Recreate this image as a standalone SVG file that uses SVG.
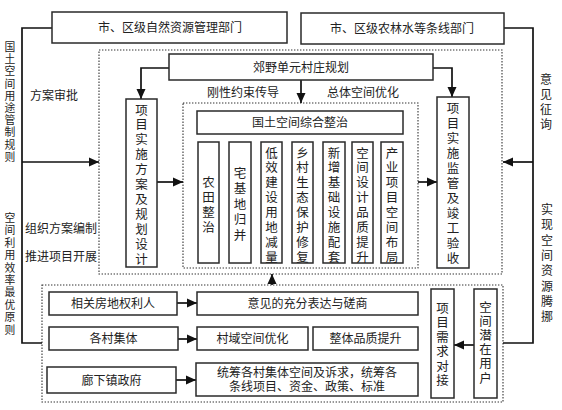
<svg xmlns="http://www.w3.org/2000/svg" width="562" height="410" viewBox="0 0 562 410">
<defs>
<style>
.bx{fill:#fff;stroke:#2a2a2a;stroke-width:1.5}
.dot{fill:none;stroke:#333;stroke-width:1.1;stroke-dasharray:1.4 1.6}
.ln{fill:none;stroke:#111;stroke-width:1.7}
.t{font-family:"Liberation Sans","Noto Sans CJK SC",sans-serif;font-size:12px;fill:#222;text-anchor:middle}
.tv{font-family:"Liberation Sans","Noto Sans CJK SC",sans-serif;font-size:12.5px;fill:#222;text-anchor:middle}
.ts{font-family:"Liberation Sans","Noto Sans CJK SC",sans-serif;font-size:10.8px;fill:#222;text-anchor:middle}
</style>
<marker id="ah" markerUnits="userSpaceOnUse" markerWidth="10" markerHeight="10" viewBox="0 0 10 10" refX="10" refY="5" orient="auto">
<path d="M0,0.5 L10,5 L0,9.5 Z" fill="#111"/>
</marker>
</defs>
<rect width="562" height="410" fill="#fff"/>

<g id="zones">
<rect class="dot" x="99" y="50" width="403" height="224"/>
<rect class="dot" x="183" y="103" width="235" height="165"/>
<rect class="dot" x="42" y="285" width="461" height="117"/>
</g>

<g id="connectors">
<polyline class="ln" points="52,28 22,28 22,343 42,343"/>
<polyline class="ln" points="504,28 533,28 533,343 503,343"/>
<line class="ln" x1="22" y1="162" x2="99" y2="162" marker-end="url(#ah)"/>
<line class="ln" x1="533" y1="162" x2="503" y2="162" marker-end="url(#ah)"/>
<polyline class="ln" points="169,68 141,68 141,99" marker-end="url(#ah)"/>
<polyline class="ln" points="433,68 452,68 452,97" marker-end="url(#ah)"/>
<line class="ln" x1="301" y1="80" x2="301" y2="103" marker-end="url(#ah)"/>
<line class="ln" x1="157" y1="182" x2="183" y2="182" marker-end="url(#ah)"/>
<line class="ln" x1="418" y1="182" x2="437" y2="182" marker-end="url(#ah)"/>
<line class="ln" x1="272" y1="285" x2="272" y2="274" marker-end="url(#ah)"/>
<line class="ln" x1="177" y1="303" x2="197" y2="303" marker-end="url(#ah)"/>
<line class="ln" x1="178" y1="339" x2="197" y2="339" marker-end="url(#ah)"/>
<line class="ln" x1="176" y1="380" x2="196" y2="380" marker-end="url(#ah)"/>
<line class="ln" x1="474" y1="345" x2="454" y2="345" marker-end="url(#ah)"/>
</g>

<g id="labels">
<text class="t" x="54" y="100">方案审批</text>
<text class="t" x="61" y="233">组织方案编制</text>
<text class="t" x="61" y="261">推进项目开展</text>
<text class="t" x="243" y="97">刚性约束传导</text>
<text class="t" x="363" y="97">总体空间优化</text>
<text class="ts"><tspan x="10" y="51">国</tspan><tspan x="10" y="63.2">土</tspan><tspan x="10" y="75.4">空</tspan><tspan x="10" y="87.6">间</tspan><tspan x="10" y="99.8">用</tspan><tspan x="10" y="112">途</tspan><tspan x="10" y="124.2">管</tspan><tspan x="10" y="136.4">制</tspan><tspan x="10" y="148.6">规</tspan><tspan x="10" y="160.8">则</tspan></text>
<text class="ts"><tspan x="10" y="222">空</tspan><tspan x="10" y="234.4">间</tspan><tspan x="10" y="246.8">利</tspan><tspan x="10" y="259.2">用</tspan><tspan x="10" y="271.6">效</tspan><tspan x="10" y="284">率</tspan><tspan x="10" y="296.4">最</tspan><tspan x="10" y="308.8">优</tspan><tspan x="10" y="321.2">原</tspan><tspan x="10" y="333.6">则</tspan></text>
<text class="t"><tspan x="546" y="84">意</tspan><tspan x="546" y="99">见</tspan><tspan x="546" y="114">征</tspan><tspan x="546" y="129">询</tspan></text>
<text class="t"><tspan x="547" y="214">实</tspan><tspan x="547" y="229.3">现</tspan><tspan x="547" y="244.6">空</tspan><tspan x="547" y="259.9">间</tspan><tspan x="547" y="275.2">资</tspan><tspan x="547" y="290.5">源</tspan><tspan x="547" y="305.8">腾</tspan><tspan x="547" y="321.1">挪</tspan></text>
</g>

<g id="n-zrzy">
<rect class="bx" x="52" y="12" width="235" height="31"/>
<text class="t" x="170" y="32">市、区级自然资源管理部门</text>
</g>
<g id="n-nls">
<rect class="bx" x="301" y="13" width="203" height="31"/>
<text class="t" x="402" y="33">市、区级农林水等条线部门</text>
</g>
<g id="n-jydy">
<rect class="bx" x="169" y="54" width="264" height="26"/>
<text class="t" x="301" y="71.5">郊野单元村庄规划</text>
</g>
<g id="n-fa">
<rect class="bx" x="126" y="99" width="31" height="168"/>
<text class="tv"><tspan x="141.5" y="114.5">项</tspan><tspan x="141.5" y="129.4">目</tspan><tspan x="141.5" y="144.3">实</tspan><tspan x="141.5" y="159.2">施</tspan><tspan x="141.5" y="174.1">方</tspan><tspan x="141.5" y="189">案</tspan><tspan x="141.5" y="203.9">及</tspan><tspan x="141.5" y="218.8">规</tspan><tspan x="141.5" y="233.7">划</tspan><tspan x="141.5" y="248.6">设</tspan><tspan x="141.5" y="263.5">计</tspan></text>
</g>
<g id="n-jg">
<rect class="bx" x="437" y="97" width="32" height="171"/>
<text class="tv"><tspan x="453" y="112.5">项</tspan><tspan x="453" y="127.5">目</tspan><tspan x="453" y="142.5">实</tspan><tspan x="453" y="157.5">施</tspan><tspan x="453" y="172.5">监</tspan><tspan x="453" y="187.5">管</tspan><tspan x="453" y="202.5">及</tspan><tspan x="453" y="217.5">竣</tspan><tspan x="453" y="232.5">工</tspan><tspan x="453" y="247.5">验</tspan><tspan x="453" y="262.5">收</tspan></text>
</g>
<g id="n-zz">
<rect class="bx" x="197" y="111" width="206" height="23"/>
<text class="t" x="300" y="127">国土空间综合整治</text>
</g>
<g id="n-nt">
<rect class="bx" x="198" y="142" width="21" height="121"/>
<text class="tv"><tspan x="208.5" y="186.5">农</tspan><tspan x="208.5" y="201.5">田</tspan><tspan x="208.5" y="216.5">整</tspan><tspan x="208.5" y="231.5">治</tspan></text>
</g>
<g id="n-zjd">
<rect class="bx" x="229" y="142" width="22" height="121"/>
<text class="tv"><tspan x="240" y="177.5">宅</tspan><tspan x="240" y="193">基</tspan><tspan x="240" y="208.5">地</tspan><tspan x="240" y="224">归</tspan><tspan x="240" y="239.5">并</tspan></text>
</g>
<g id="n-dx">
<rect class="bx" x="261" y="142" width="21" height="121"/>
<text class="tv"><tspan x="271.5" y="157.5">低</tspan><tspan x="271.5" y="172.4">效</tspan><tspan x="271.5" y="187.3">建</tspan><tspan x="271.5" y="202.2">设</tspan><tspan x="271.5" y="217.1">用</tspan><tspan x="271.5" y="232">地</tspan><tspan x="271.5" y="246.9">减</tspan><tspan x="271.5" y="261.8">量</tspan></text>
</g>
<g id="n-st">
<rect class="bx" x="292" y="142" width="21" height="121"/>
<text class="tv"><tspan x="302.5" y="157.5">乡</tspan><tspan x="302.5" y="172.4">村</tspan><tspan x="302.5" y="187.3">生</tspan><tspan x="302.5" y="202.2">态</tspan><tspan x="302.5" y="217.1">保</tspan><tspan x="302.5" y="232">护</tspan><tspan x="302.5" y="246.9">修</tspan><tspan x="302.5" y="261.8">复</tspan></text>
</g>
<g id="n-jc">
<rect class="bx" x="323" y="142" width="22" height="121"/>
<text class="tv"><tspan x="334" y="157.5">新</tspan><tspan x="334" y="172.4">增</tspan><tspan x="334" y="187.3">基</tspan><tspan x="334" y="202.2">础</tspan><tspan x="334" y="217.1">设</tspan><tspan x="334" y="232">施</tspan><tspan x="334" y="246.9">配</tspan><tspan x="334" y="261.8">套</tspan></text>
</g>
<g id="n-pz">
<rect class="bx" x="352" y="142" width="21" height="121"/>
<text class="tv"><tspan x="362.5" y="157.5">空</tspan><tspan x="362.5" y="172.4">间</tspan><tspan x="362.5" y="187.3">设</tspan><tspan x="362.5" y="202.2">计</tspan><tspan x="362.5" y="217.1">品</tspan><tspan x="362.5" y="232">质</tspan><tspan x="362.5" y="246.9">提</tspan><tspan x="362.5" y="261.8">升</tspan></text>
</g>
<g id="n-cy">
<rect class="bx" x="381" y="142" width="22" height="121"/>
<text class="tv"><tspan x="392" y="157.5">产</tspan><tspan x="392" y="172.4">业</tspan><tspan x="392" y="187.3">项</tspan><tspan x="392" y="202.2">目</tspan><tspan x="392" y="217.1">空</tspan><tspan x="392" y="232">间</tspan><tspan x="392" y="246.9">布</tspan><tspan x="392" y="261.8">局</tspan></text>
</g>

<g id="n-flr">
<rect class="bx" x="49" y="292" width="128" height="23"/>
<text class="t" x="113" y="308">相关房地权利人</text>
</g>
<g id="n-yj">
<rect class="bx" x="197" y="292" width="221" height="23"/>
<text class="t" x="307.5" y="308">意见的充分表达与磋商</text>
</g>
<g id="n-gcjt">
<rect class="bx" x="49" y="327" width="129" height="23"/>
<text class="t" x="113.5" y="343">各村集体</text>
</g>
<g id="n-cy2">
<rect class="bx" x="197" y="327" width="111" height="23"/>
<text class="t" x="252.5" y="343">村域空间优化</text>
</g>
<g id="n-zt">
<rect class="bx" x="313" y="327" width="105" height="23"/>
<text class="t" x="365.5" y="343">整体品质提升</text>
</g>
<g id="n-lx">
<rect class="bx" x="47" y="367" width="129" height="26"/>
<text class="t" x="111.5" y="384.5">廊下镇政府</text>
</g>
<g id="n-tc">
<rect class="bx" x="196" y="363" width="222" height="33"/>
<text class="t"><tspan x="307" y="377">统筹各村集体空间及诉求，统筹各</tspan><tspan x="307" y="391">条线项目、资金、政策、标准</tspan></text>
</g>
<g id="n-xq">
<rect class="bx" x="431" y="289" width="23" height="109"/>
<text class="tv"><tspan x="442.5" y="312.5">项</tspan><tspan x="442.5" y="327">目</tspan><tspan x="442.5" y="341.5">需</tspan><tspan x="442.5" y="356">求</tspan><tspan x="442.5" y="370.5">对</tspan><tspan x="442.5" y="385">接</tspan></text>
</g>
<g id="n-yh">
<rect class="bx" x="474" y="289" width="23" height="109"/>
<text class="tv"><tspan x="485.5" y="311.5">空</tspan><tspan x="485.5" y="325.7">间</tspan><tspan x="485.5" y="339.9">潜</tspan><tspan x="485.5" y="354.1">在</tspan><tspan x="485.5" y="368.3">用</tspan><tspan x="485.5" y="382.5">户</tspan></text>
</g>
</svg>
